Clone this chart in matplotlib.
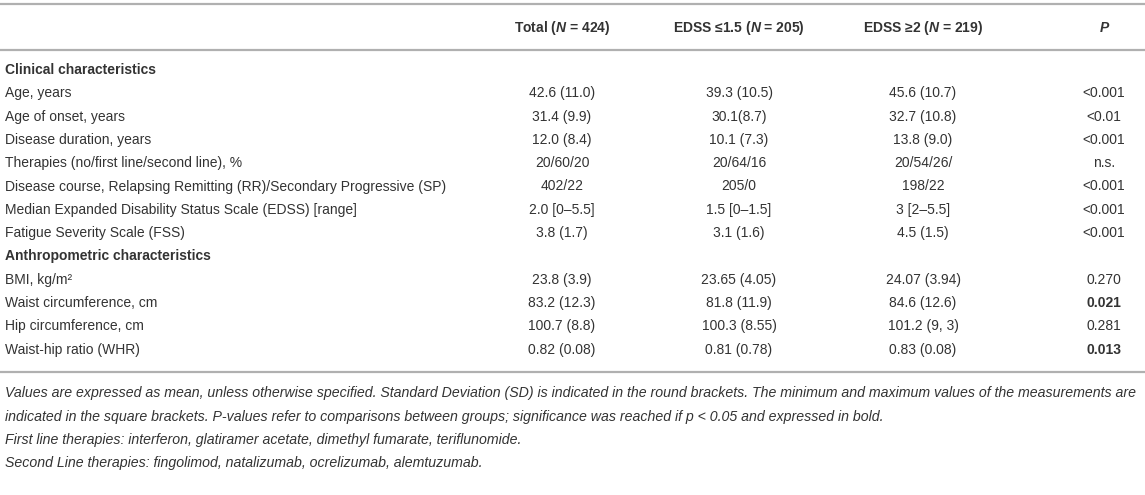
import matplotlib
matplotlib.use("Agg")
import matplotlib.pyplot as plt

plt.rcParams['font.family'] = ['Liberation Sans', 'DejaVu Sans']
plt.rcParams['mathtext.fontset'] = 'custom'
plt.rcParams['mathtext.it'] = 'Liberation Sans:italic:bold'
plt.rcParams['mathtext.rm'] = 'Liberation Sans:bold'

headers = ["Total ($N$ = 424)", "EDSS \u22641.5 ($N$ = 205)", "EDSS \u22652 ($N$ = 219)"]

sections = ["Clinical characteristics", "Anthropometric characteristics"]

clin_labels = ["Age, years", "Age of onset, years", "Disease duration, years",
               "Therapies (no/first line/second line), %",
               "Disease course, Relapsing Remitting (RR)/Secondary Progressive (SP)",
               "Median Expanded Disability Status Scale (EDSS) [range]",
               "Fatigue Severity Scale (FSS)"]
clin_total = ["42.6 (11.0)", "31.4 (9.9)", "12.0 (8.4)", "20/60/20", "402/22",
              "2.0 [0\u20135.5]", "3.8 (1.7)"]
clin_low = ["39.3 (10.5)", "30.1(8.7)", "10.1 (7.3)", "20/64/16", "205/0",
            "1.5 [0\u20131.5]", "3.1 (1.6)"]
clin_high = ["45.6 (10.7)", "32.7 (10.8)", "13.8 (9.0)", "20/54/26/", "198/22",
             "3 [2\u20135.5]", "4.5 (1.5)"]
clin_p = ["<0.001", "<0.01", "<0.001", "n.s.", "<0.001", "<0.001", "<0.001"]

anth_labels = ["BMI, kg/m\u00b2", "Waist circumference, cm", "Hip circumference, cm",
               "Waist-hip ratio (WHR)"]
anth_total = ["23.8 (3.9)", "83.2 (12.3)", "100.7 (8.8)", "0.82 (0.08)"]
anth_low = ["23.65 (4.05)", "81.8 (11.9)", "100.3 (8.55)", "0.81 (0.78)"]
anth_high = ["24.07 (3.94)", "84.6 (12.6)", "101.2 (9, 3)", "0.83 (0.08)"]
anth_p = ["0.270", "0.021", "0.281", "0.013"]
anth_sig = [False, True, False, True]

notes = [
    "Values are expressed as mean, unless otherwise specified. Standard Deviation (SD) is indicated in the round brackets. "
    "The minimum and maximum values of the measurements are",
    "indicated in the square brackets. P-values refer to comparisons between groups; significance was reached if p < 0.05 and expressed in bold.",
    "First line therapies: interferon, glatiramer acetate, dimethyl fumarate, teriflunomide.",
    "Second Line therapies: fingolimod, natalizumab, ocrelizumab, alemtuzumab.",
]

W, H = 1145, 495
fig = plt.figure(figsize=(W / 100, H / 100), dpi=100)
ax = fig.add_axes([0, 0, 1, 1])
ax.set_xlim(0, W)
ax.set_ylim(H, 0)
ax.axis('off')

txt = '#333333'
line_c = '#b0b0b0'
fs = 10
col_x = [562, 739, 923, 1104]
label_x = 5
row_h = 23.3

# rules
for y in [4, 50, 372]:
    ax.plot([0, W], [y, y], color=line_c, lw=1.6, solid_capstyle='butt')

# header
for x, h in zip(col_x[:3], headers):
    ax.text(x, 28, h, ha='center', va='center', fontsize=fs, fontweight='bold', color=txt)
ax.text(col_x[3], 28, "P", ha='center', va='center', fontsize=fs, fontweight='bold',
        fontstyle='italic', color=txt)

y = 70
ax.text(label_x, y, sections[0], ha='left', va='center', fontsize=fs, fontweight='bold', color=txt)
for i, lab in enumerate(clin_labels):
    y += row_h
    ax.text(label_x, y, lab, ha='left', va='center', fontsize=fs, color=txt)
    for x, v in zip(col_x, [clin_total[i], clin_low[i], clin_high[i], clin_p[i]]):
        ax.text(x, y, v, ha='center', va='center', fontsize=fs, color=txt)

y += row_h
ax.text(label_x, y, sections[1], ha='left', va='center', fontsize=fs, fontweight='bold', color=txt)
for i, lab in enumerate(anth_labels):
    y += row_h
    ax.text(label_x, y, lab, ha='left', va='center', fontsize=fs, color=txt)
    for x, v in zip(col_x[:3], [anth_total[i], anth_low[i], anth_high[i]]):
        ax.text(x, y, v, ha='center', va='center', fontsize=fs, color=txt)
    ax.text(col_x[3], y, anth_p[i], ha='center', va='center', fontsize=fs, color=txt,
            fontweight='bold' if anth_sig[i] else 'normal')

ny = 393
for n in notes:
    ax.text(label_x, ny, n, ha='left', va='center', fontsize=10.2, fontstyle='italic', color=txt)
    ny += 23.5

fig.savefig('out.png', dpi=100, facecolor='white')
